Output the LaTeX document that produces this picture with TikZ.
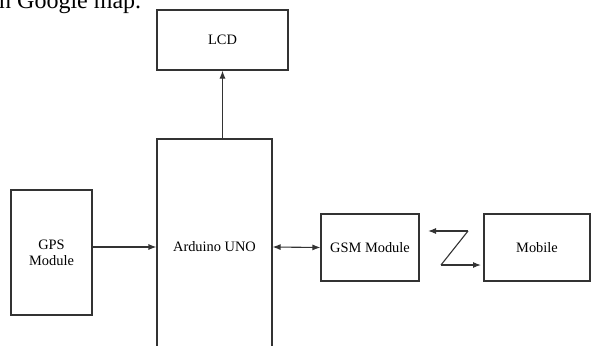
\documentclass[tikz,border=0pt]{standalone}
\usepackage{fontspec}
\setmainfont{Liberation Serif}
\usetikzlibrary{arrows.meta,calc}
\begin{document}
\begin{tikzpicture}[x=1pt,y=-1pt,
  blk/.style={draw=black!80,line width=1.1pt,inner sep=0pt,align=center,
    font=\fontsize{14.4}{17}\selectfont},
  arr/.style={draw=black!80,line width=1.1pt,-{Latex[length=8pt,width=6pt]}},
  darr/.style={draw=black!80,line width=1.1pt,{Latex[length=8pt,width=6pt]}-{Latex[length=8pt,width=6pt]}}]
\useasboundingbox (0,0) rectangle (591,345);
\clip (0,0) rectangle (591,345);
\node[anchor=base west,inner sep=0pt,font=\fontsize{24}{28}\selectfont] (top) at (-1,9) {n Google map.};
\node[blk,minimum width=131pt,minimum height=60pt] (lcd) at (222.5,40) {LCD};
\node[blk,minimum width=115pt,minimum height=216pt] (ard) at (214.5,247) {Arduino UNO};
\node[blk,minimum width=81pt,minimum height=125pt] (gps) at (51.5,252.5) {GPS\\[-1pt]Module};
\node[blk,minimum width=98pt,minimum height=67pt] (gsm) at (370,247.5) {GSM Module};
\node[blk,minimum width=106pt,minimum height=67pt] (mob) at (537,247.5) {Mobile};
\draw[arr] (lcd.south |- ard.north) -- (lcd.south);
\draw[arr] (gps.east |- ard.west) -- (ard.west);
\draw[darr] (ard.east) -- (gsm.west);
\coordinate (z1) at (468,231);
\coordinate (z2) at (441,265);
\coordinate (zl) at (428,231);
\coordinate (zr) at (481,265);
\draw[arr] (z1) -- (zl);
\draw[draw=black!80,line width=1.1pt] (z1) -- (z2);
\draw[arr] (z2) -- (zr);
\end{tikzpicture}
\end{document}
